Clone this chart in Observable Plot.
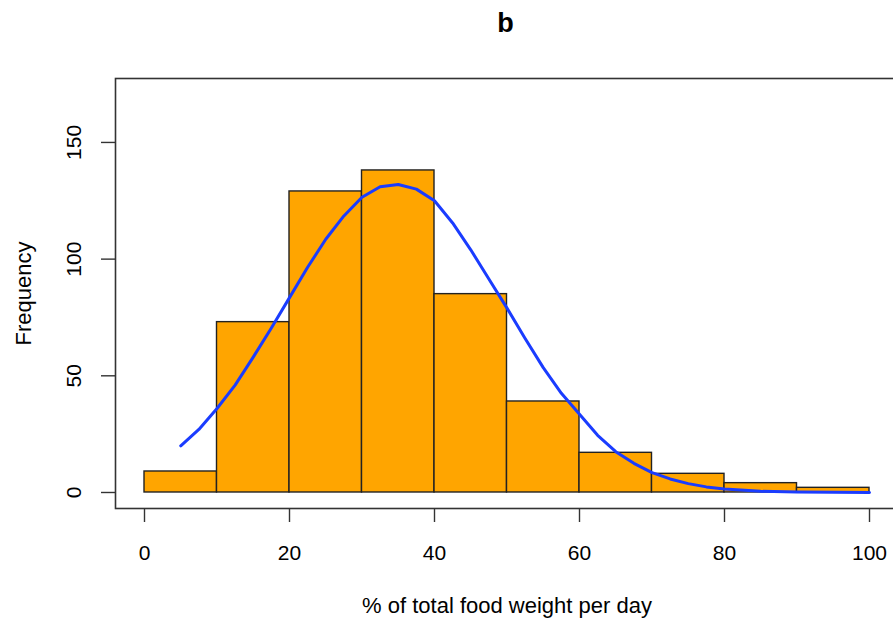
<!DOCTYPE html>
<html>
<head>
<meta charset="utf-8">
<script src="https://cdn.jsdelivr.net/npm/d3@7"></script>
<script src="https://cdn.jsdelivr.net/npm/@observablehq/plot@0.6"></script>
<style>
  html, body { margin: 0; padding: 0; background: #fff; overflow: hidden; }
  #title { height: 50px; box-sizing: border-box; padding-top: 10px;
           font: bold 27px "Liberation Sans", Arial, sans-serif; line-height: 1;
           width: 1011px; text-align: center; color: #000; }
  svg { overflow: hidden; }
</style>
</head>
<body>
<div id="title">b</div>
<div id="chart"></div>
<script>
// Histogram bins (% of total food weight per day) and counts
const binStart = [0, 10, 20, 30, 40, 50, 60, 70, 80, 90];
const binEnd   = [10, 20, 30, 40, 50, 60, 70, 80, 90, 100];
const counts   = [9, 73, 129, 138, 85, 39, 17, 8, 4, 2];

// Fitted curve
const curveX = [5, 7.5, 10, 12.5, 15, 17.5, 20, 22.5, 25, 27.5, 30, 32.5, 35, 37.5, 40, 42.5, 45, 47.5, 50,
                52.5, 55, 57.5, 60, 62.5, 65, 67.5, 70, 72.5, 75, 77.5, 80, 85, 90, 95, 100];
const curveY = [20, 27, 36, 46, 58, 70.5, 83.5, 96.5, 108.5, 118.5, 126.5, 131, 132, 130, 125, 115.5, 104, 91.5, 79,
                66, 53.5, 42.5, 33.5, 24.5, 17.5, 12.5, 8.5, 5.8, 3.8, 2.4, 1.5, 0.5, 0.17, 0.05, 0.01];

const xTicks = [0, 20, 40, 60, 80, 100];
const yTicks = [0, 50, 100, 150];
const xTitle = "% of total food weight per day";
const yTitle = "Frequency";

const bars = binStart.map((s, i) => ({x1: s, x2: binEnd[i], y: counts[i]}));
const curve = curveX.map((x, i) => ({x, y: curveY[i]}));

const font = '"Liberation Sans", Arial, sans-serif';

const chart = Plot.plot({
  width: 893,
  height: 569,
  marginLeft: 115,
  marginRight: -5,
  marginTop: 28,
  marginBottom: 111,
  style: {fontFamily: font, fontSize: "21px", background: "#fff", color: "#000", overflow: "hidden"},
  x: {domain: [-4, 104]},
  y: {domain: [-6.86, 177.4]},
  marks: [
    Plot.rectY(bars, {x1: "x1", x2: "x2", y: "y", fill: "#FFA500", stroke: "#222", strokeWidth: 1.4, inset: 0}),
    Plot.line(curve, {x: "x", y: "y", stroke: "#1a3cff", strokeWidth: 3, curve: "linear"}),
    Plot.frame({stroke: "#333", strokeWidth: 1.6}),
    Plot.axisX(xTicks, {tickSize: 14, tickPadding: 23, stroke: "#333", strokeWidth: 1.4, fontSize: 21, label: null}),
    Plot.axisY(yTicks, {tickSize: 14, tickFormat: () => "", stroke: "#333", strokeWidth: 1.4, label: null}),
    Plot.text(yTicks, {y: d => d, text: d => String(d), frameAnchor: "left", dx: -41, rotate: -90,
                       textAnchor: "middle", lineAnchor: "middle", fontSize: 21, fill: "#000"}),
    Plot.text([yTitle], {frameAnchor: "left", dx: -92, rotate: -90, textAnchor: "middle",
                         lineAnchor: "middle", fontSize: 22, fill: "#000"}),
    Plot.text([xTitle], {frameAnchor: "bottom", dy: 97, textAnchor: "middle",
                         lineAnchor: "middle", fontSize: 22, fill: "#000"})
  ]
});
document.getElementById("chart").appendChild(chart);
</script>
</body>
</html>
